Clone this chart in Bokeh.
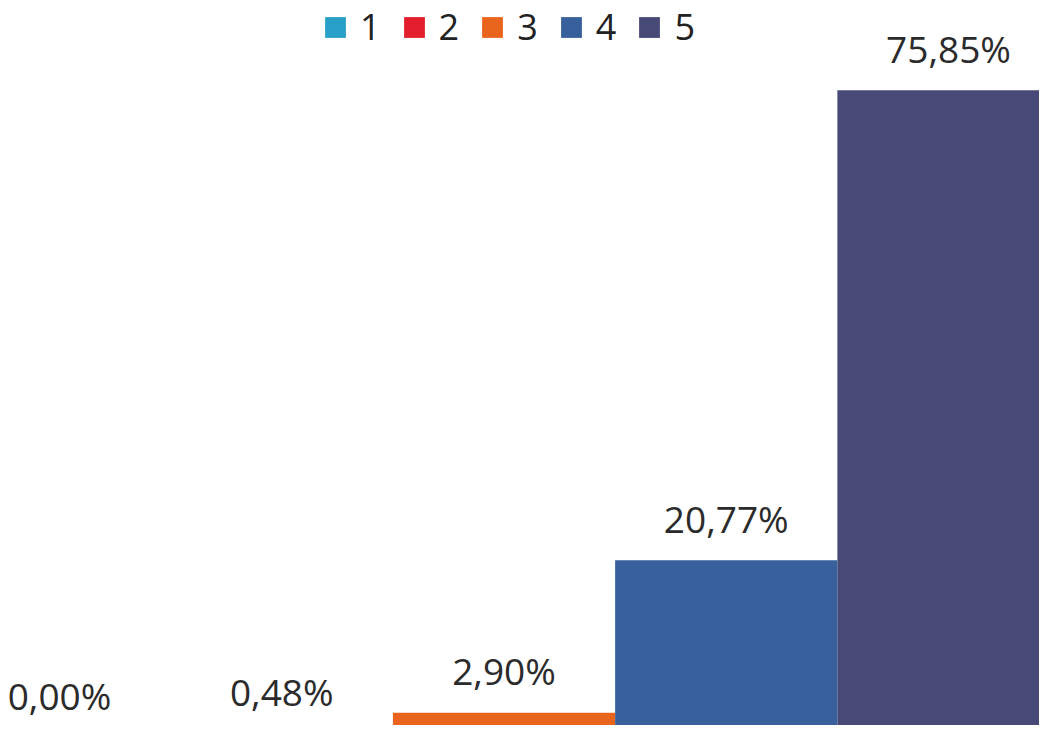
from bokeh.plotting import figure
from bokeh.models import ColumnDataSource, Legend, LegendItem, Range1d, LabelSet
from bokeh.embed import file_html
from bokeh.resources import INLINE
from bokeh.core.properties import value

categories = ["1", "2", "3", "4", "5"]
values = [0.00, 0.48, 2.90, 20.77, 75.85]
labels = ["0,00%", "0,48%", "2,90%", "20,77%", "75,85%"]
colors = ["#29A0C8", "#E31E2D", "#E9651E", "#38609C", "#474976"]
positions = list(range(len(categories)))

src = ColumnDataSource(dict(x=positions, top=values, cat=categories,
                            color=colors, label=labels))

p = figure(width=1039, height=725, output_backend="svg", toolbar_location=None,
           x_range=Range1d(-0.2655, 4.4094), y_range=Range1d(1.406, 86.37),
           min_border=0, outline_line_color=None,
           x_axis_location=None, y_axis_location=None)
p.xgrid.visible = False
p.ygrid.visible = False
p.background_fill_color = "white"
p.border_fill_color = "white"

r = p.vbar(x="x", top="top", bottom=0, width=1.0, fill_color="color",
           line_color=None, source=src)

lbl = LabelSet(x="x", y="top", text="label", source=src, y_offset=42,
               text_align="center", text_baseline="middle",
               text_font=value("Open Sans"), text_font_size=value("37px"),
               text_color=value("#2b2b2b"))
p.add_layout(lbl)

items = [LegendItem(label=c, renderers=[r], index=i) for i, c in enumerate(categories)]
legend = Legend(items=items, orientation="horizontal", location=(322, 674),
                glyph_width=26, glyph_height=26, label_standoff=12, spacing=20,
                padding=0, margin=0, border_line_alpha=0, background_fill_alpha=0,
                label_text_font="Open Sans", label_text_font_size="36px",
                label_text_color="#222222")
p.add_layout(legend)

open("out.html", "w").write(file_html(p, INLINE))
